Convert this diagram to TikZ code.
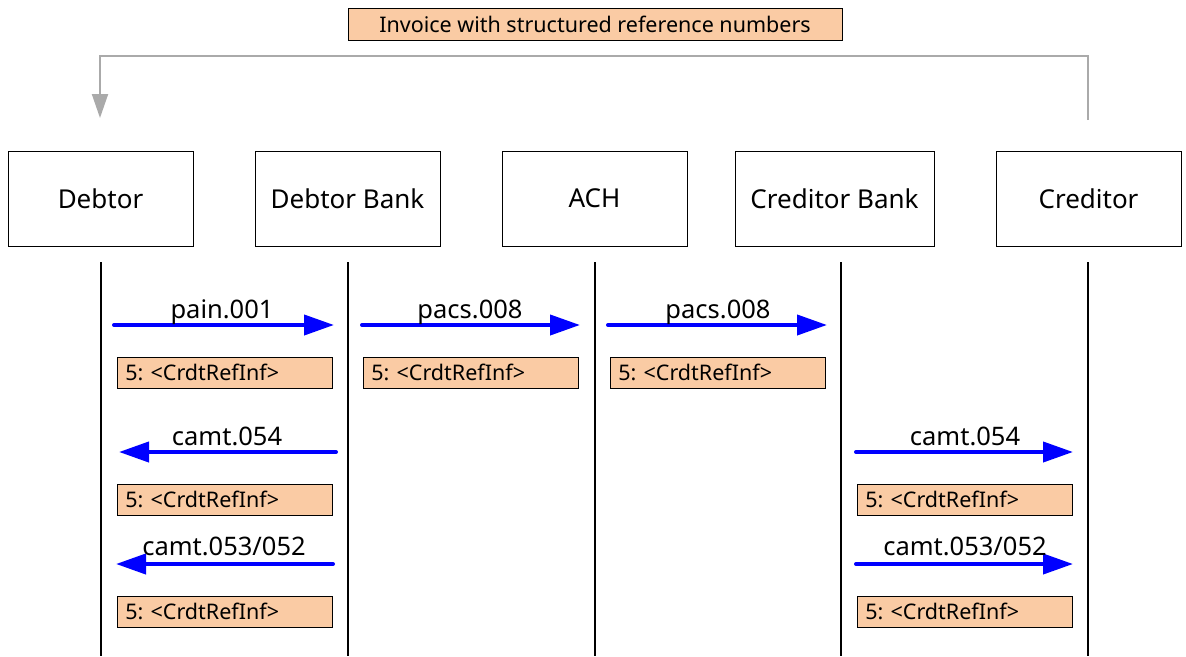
\documentclass[tikz,border=0pt]{standalone}
\usepackage{fontspec}
\setmainfont{Noto Sans}
\usetikzlibrary{arrows.meta}
\frenchspacing
\definecolor{peach}{RGB}{250,203,164}
\definecolor{linkgray}{RGB}{170,170,170}
\tikzset{
  party/.style={draw=black,line width=1pt,minimum width=185pt,minimum height=95pt,inner sep=0pt,font=\fontsize{26}{30}\selectfont},
  lifeline/.style={draw=black,line width=2pt},
  msg/.style={draw=blue,line width=4pt,line cap=round,-{Triangle[length=30pt,width=20pt]}},
  msglabel/.style={anchor=base,inner sep=0pt,font=\fontsize{25.5}{30}\selectfont},
  refbox/.style={draw=black,line width=0.8pt,fill=peach,anchor=west,minimum height=31pt,inner xsep=8pt,inner ysep=0pt,text width=199pt,align=left,font=\fontsize{21.5}{25}\selectfont},
  topbox/.style={draw=black,line width=0.8pt,fill=peach,minimum width=494pt,minimum height=32pt,inner sep=0pt,font=\fontsize{21.5}{25}\selectfont},
  graylink/.style={draw=linkgray,line width=2pt,-{Triangle[length=24pt,width=16pt]}}
}
\begin{document}
\begin{tikzpicture}[x=1pt,y=-1pt]
\useasboundingbox (0,0) rectangle (1186,656);
% top label
\node[topbox] (inv) at (595,24) {Invoice with structured reference numbers};
\coordinate (gstart) at (1088,120);
\coordinate (gtop) at (594,56);
\coordinate (gend) at (100,118);
\draw[graylink] (gstart) |- (gtop) -| (gend);
% participants
\node[party] (deb) at (100.5,198.5) {Debtor};
\node[party] (debb) at (347.5,198.5) {Debtor Bank};
\node[party] (ach) at (594.5,198.5) {ACH};
\node[party,minimum width=199pt] (credb) at (834.5,198.5) {Creditor Bank};
\node[party] (cred) at (1088.5,198.5) {Creditor};
% lifelines
\foreach \n/\x in {l1/101,l2/348,l3/595,l4/841,l5/1088}{
  \coordinate (\n t) at (\x,262);
  \coordinate (\n b) at (\x,656);
  \draw[lifeline] (\n t) -- (\n b);
}
% row 1
\coordinate (a1s) at (114,325); \coordinate (a1e) at (334,325);
\draw[msg] (a1s) -- (a1e);
\node[msglabel] (t1) at (222,318) {pain.001};
\node[refbox] (r1) at (117,372.5) {5: <CrdtRefInf>};
\coordinate (a2s) at (362,325); \coordinate (a2e) at (580,325);
\draw[msg] (a2s) -- (a2e);
\node[msglabel] (t2) at (470,318) {pacs.008};
\node[refbox] (r2) at (363,372.5) {5: <CrdtRefInf>};
\coordinate (a3s) at (608,325); \coordinate (a3e) at (827,325);
\draw[msg] (a3s) -- (a3e);
\node[msglabel] (t3) at (718,318) {pacs.008};
\node[refbox] (r3) at (610,372.5) {5: <CrdtRefInf>};
% row 2
\coordinate (b1s) at (336,452); \coordinate (b1e) at (119,452);
\draw[msg] (b1s) -- (b1e);
\node[msglabel] (u1) at (227,445) {camt.054};
\node[refbox] (s1) at (117,499.5) {5: <CrdtRefInf>};
\coordinate (b2s) at (856,452); \coordinate (b2e) at (1073,452);
\draw[msg] (b2s) -- (b2e);
\node[msglabel] (u2) at (965,445) {camt.054};
\node[refbox] (s2) at (857,499.5) {5: <CrdtRefInf>};
% row 3
\coordinate (c1s) at (333,564); \coordinate (c1e) at (116,564);
\draw[msg] (c1s) -- (c1e);
\node[msglabel] (v1) at (224,555) {camt.053/052};
\node[refbox] (w1) at (117,611.5) {5: <CrdtRefInf>};
\coordinate (c2s) at (856,564); \coordinate (c2e) at (1073,564);
\draw[msg] (c2s) -- (c2e);
\node[msglabel] (v2) at (965,555) {camt.053/052};
\node[refbox] (w2) at (857,611.5) {5: <CrdtRefInf>};
\end{tikzpicture}
\end{document}
